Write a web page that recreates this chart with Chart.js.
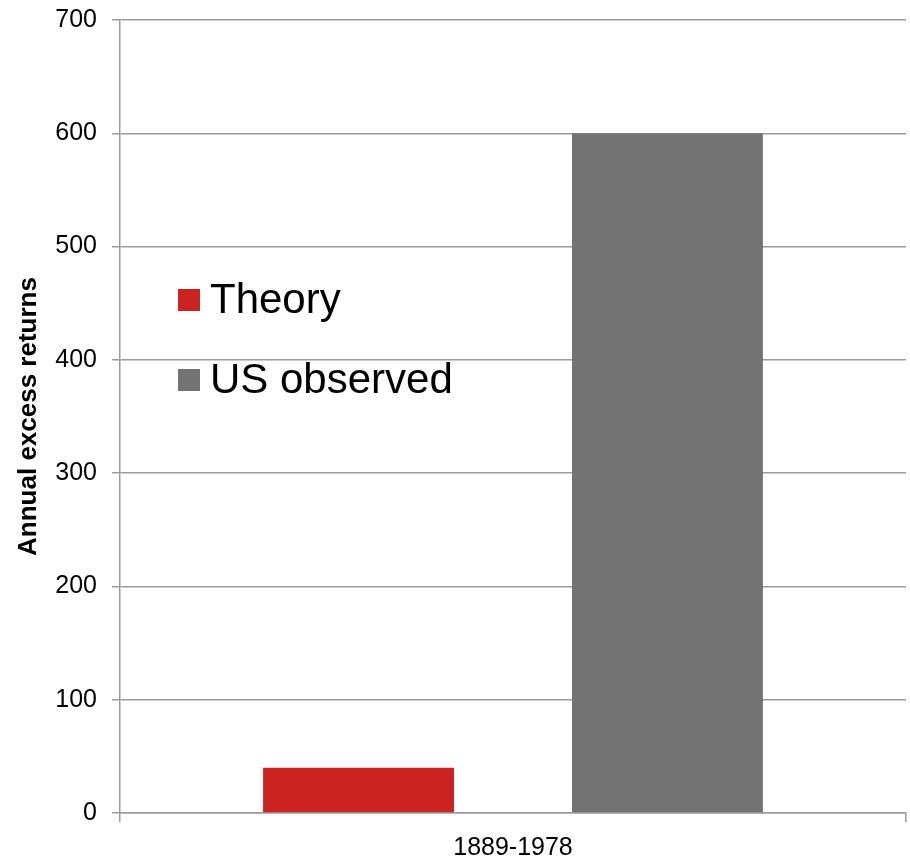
<!DOCTYPE html>
<html>
<head>
<meta charset="utf-8">
<script src="https://cdn.jsdelivr.net/npm/chart.js@4/dist/chart.umd.min.js"></script>
<style>
  html, body { margin: 0; padding: 0; background: #ffffff; }
  #wrap { width: 910px; height: 858px; position: relative; }
</style>
</head>
<body>
<div id="wrap"><canvas id="c" width="910" height="858"></canvas></div>
<script>
// Annual excess returns, 1889-1978: theoretical vs. observed in the US
const categories = ['1889-1978'];
const seriesNames = ['Theory', 'US observed'];
const theoryValues = [40];
const observedValues = [600];
const yTicks = [0, 100, 200, 300, 400, 500, 600, 700];

const FONT = '"Liberation Sans", Arial, Helvetica, sans-serif';
const GRID = '#9c9c9c';

// Legend drawn inside the plot area, to the left of the bars
const insideLegend = {
  id: 'insideLegend',
  afterDraw(chart) {
    const ctx = chart.ctx;
    const area = chart.chartArea;
    const x0 = area.left + 58;
    const rows = [area.top + 280, area.top + 360];
    ctx.save();
    ctx.font = '42px ' + FONT;
    ctx.textBaseline = 'middle';
    ctx.textAlign = 'left';
    chart.data.datasets.forEach((ds, i) => {
      const cy = rows[i];
      ctx.fillStyle = ds.backgroundColor;
      ctx.fillRect(x0, cy - 11, 22, 22);
      ctx.fillStyle = '#000000';
      ctx.fillText(ds.label, x0 + 32, cy + 1);
    });
    ctx.restore();
  }
};

new Chart(document.getElementById('c'), {
  type: 'bar',
  data: {
    labels: categories,
    datasets: [
      { label: seriesNames[0], data: theoryValues, backgroundColor: '#cb2320' },
      { label: seriesNames[1], data: observedValues, backgroundColor: '#737373' }
    ]
  },
  options: {
    responsive: false,
    animation: false,
    devicePixelRatio: 1,
    categoryPercentage: 0.786,
    barPercentage: 0.618,
    layout: { padding: { top: 20, right: 4, bottom: 0, left: 0 } },
    plugins: {
      legend: { display: false },
      tooltip: { enabled: false }
    },
    scales: {
      x: {
        afterFit(scale) {
          scale.height = 45;
          scale.paddingLeft = 0;
          scale.paddingRight = 0;
        },
        grid: {
          display: true,
          drawOnChartArea: false,
          drawTicks: true,
          tickLength: 9,
          color: GRID,
          lineWidth: 1.5
        },
        border: { display: true, color: GRID, width: 1.5 },
        ticks: {
          color: '#000000',
          font: { family: FONT, size: 25 },
          padding: 11
        }
      },
      y: {
        min: 0,
        max: 700,
        afterFit(scale) {
          scale.width = 120;
          scale.paddingTop = 0;
          scale.paddingBottom = 0;
        },
        afterBuildTicks(scale) { scale.ticks = yTicks.map(v => ({ value: v })); },
        grid: {
          color: GRID,
          lineWidth: 1.5,
          drawTicks: true,
          tickLength: 8
        },
        border: { display: true, color: GRID, width: 1.5 },
        ticks: {
          color: '#000000',
          font: { family: FONT, size: 25 },
          padding: 15
        },
        title: {
          display: true,
          text: 'Annual excess returns',
          color: '#000000',
          font: { family: FONT, size: 26, weight: 'bold' },
          padding: { top: 13, bottom: 0 }
        }
      }
    }
  },
  plugins: [insideLegend]
});
</script>
</body>
</html>
